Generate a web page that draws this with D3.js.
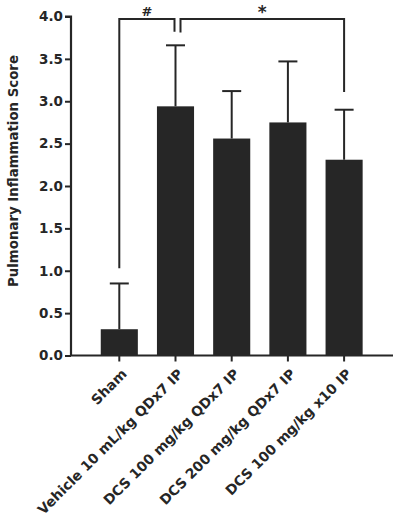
<!DOCTYPE html>
<html>
<head>
<meta charset="utf-8">
<script src="https://cdn.jsdelivr.net/npm/d3@7"></script>
<style>
  body { margin: 0; background: #fff; }
  svg text { font-family: "DejaVu Sans", sans-serif; font-weight: bold; }
</style>
</head>
<body>
<svg id="chart" width="394" height="518"></svg>
<script>
const groups = ["Sham", "Vehicle 10 mL/kg QDx7 IP", "DCS 100 mg/kg QDx7 IP", "DCS 200 mg/kg QDx7 IP", "DCS 100 mg/kg x10 IP"];
const means = [0.31, 2.94, 2.56, 2.75, 2.31];
const sds = [0.54, 0.72, 0.56, 0.72, 0.59];
const yTicks = [0, 0.5, 1, 1.5, 2, 2.5, 3, 3.5, 4];

// significance brackets: from group, to group, top level, left drop, right drop
const brackets = [
  { from: 0, to: 1, top: 3.97, left: 1.03, right: 3.82, label: "#" },
  { from: 1, to: 4, top: 3.97, left: 3.81, right: 3.11, label: "*" }
];

const svg = d3.select('#chart');
const ink = "#262626";

const x = d3.scaleBand().domain(groups).range([91.2, 372.2]).paddingInner(0.34).paddingOuter(0.17);
const y = d3.scaleLinear().domain([0, 4]).range([355.5, 16.5]);

// bars
svg.append('g').selectAll('rect')
  .data(groups)
  .join('rect')
  .attr('x', d => x(d))
  .attr('y', (d, i) => y(means[i]))
  .attr('width', x.bandwidth())
  .attr('height', (d, i) => y(0) - y(means[i]))
  .attr('fill', ink);

// error bars (upper only)
const err = svg.append('g').attr('stroke', ink).attr('stroke-width', 2);
groups.forEach((g, i) => {
  const cx = x(g) + x.bandwidth() / 2;
  err.append('line').attr('x1', cx).attr('x2', cx).attr('y1', y(means[i])).attr('y2', y(means[i] + sds[i]));
  err.append('line').attr('x1', cx - 9.5).attr('x2', cx + 9.5).attr('y1', y(means[i] + sds[i])).attr('y2', y(means[i] + sds[i]));
});

// y axis
const yAxis = d3.axisLeft(y).tickValues(yTicks).tickFormat(d3.format('.1f')).tickSize(6).tickPadding(2);
const gy = svg.append('g').attr('transform', 'translate(71,0)').call(yAxis);
gy.attr('font-family', null).attr('font-size', null);
gy.select('.domain').attr('stroke', ink).attr('stroke-width', 2.2).attr('d', `M-6,${y(4)}H0V${y(0)}`);
gy.selectAll('.tick line').attr('stroke', ink).attr('stroke-width', 2);
gy.selectAll('.tick text')
  .attr('fill', ink)
  .style('font-size', '13.5px');

// x axis
const xAxis = d3.axisBottom(x).tickSize(6).tickSizeOuter(0).tickPadding(6);
const gx = svg.append('g').attr('transform', `translate(0,${y(0)})`).call(xAxis);
gx.attr('font-family', null).attr('font-size', null);
gx.select('.domain').attr('stroke', ink).attr('stroke-width', 2.2).attr('d', 'M70,0H393');
gx.selectAll('.tick line').attr('stroke', ink).attr('stroke-width', 2);
gx.selectAll('.tick text')
  .attr('fill', ink)
  .style('font-size', '13.8px')
  .attr('text-anchor', 'end')
  .attr('y', 0)
  .attr('dy', '0.35em')
  .attr('transform', 'translate(5,16) rotate(-45)');

// y label
svg.append('text')
  .attr('transform', `translate(18,171) rotate(-90)`)
  .attr('text-anchor', 'middle')
  .attr('fill', ink)
  .style('font-size', '13.4px')
  .attr('textLength', 232)
  .attr('lengthAdjust', 'spacingAndGlyphs')
  .text('Pulmonary Inflammation Score');

// brackets
const br = svg.append('g');
brackets.forEach(b => {
  const x0 = x(groups[b.from]) + x.bandwidth() / 2 + (b.from === 1 ? 5 : 0);
  const x1 = x(groups[b.to]) + x.bandwidth() / 2 - (b.to === 1 ? 1 : 0);
  br.append('path')
    .attr('d', `M${x0},${y(b.left)}V${y(b.top)}H${x1}V${y(b.right)}`)
    .attr('fill', 'none')
    .attr('stroke', ink)
    .attr('stroke-width', 2);
  br.append('text')
    .attr('x', (x0 + x1) / 2)
    .attr('y', b.label === '*' ? 18 : 15.5)
    .attr('text-anchor', 'middle')
    .attr('fill', ink)
    .style('font-size', b.label === '*' ? '17px' : '13px')
    .text(b.label);
});
</script>
</body>
</html>
